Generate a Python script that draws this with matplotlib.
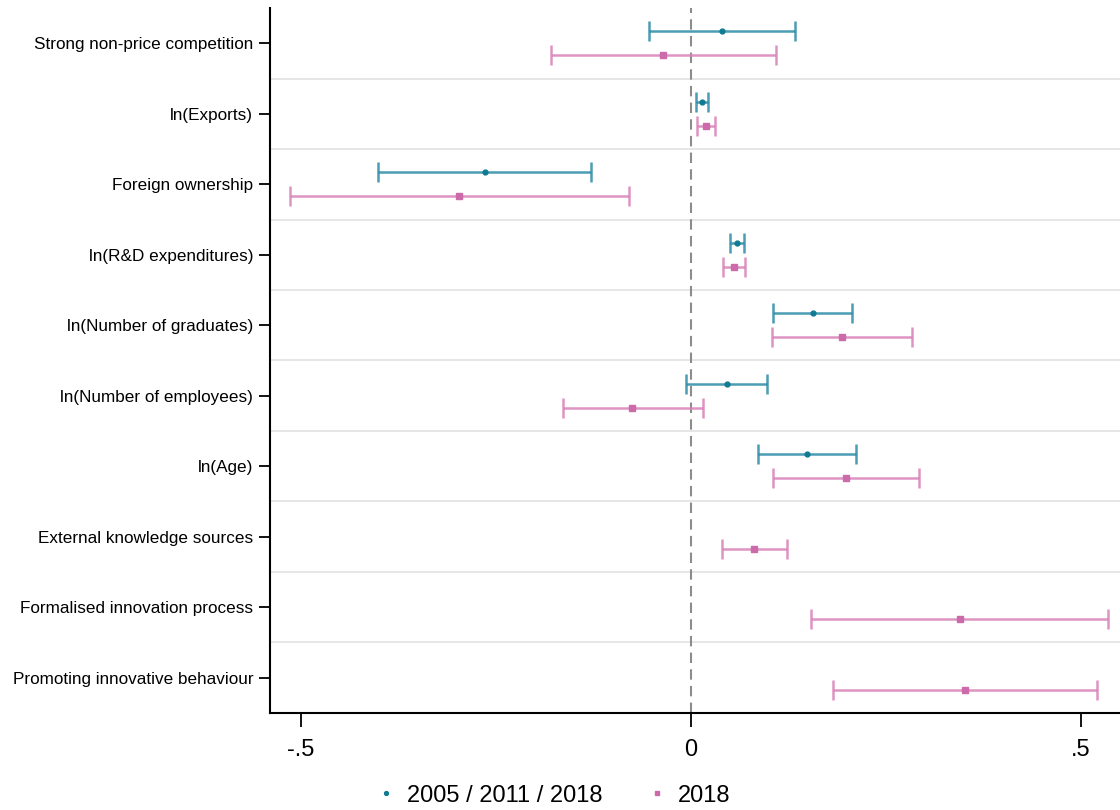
import matplotlib
matplotlib.use("Agg")
import matplotlib.pyplot as plt
import numpy as np

plt.rcParams['font.family'] = ['Liberation Sans', 'DejaVu Sans']

labels = ['Strong non-price competition', 'ln(Exports)', 'Foreign ownership',
          'ln(R&D expenditures)', 'ln(Number of graduates)', 'ln(Number of employees)',
          'ln(Age)', 'External knowledge sources', 'Formalised innovation process',
          'Promoting innovative behaviour']

# series 1: 2005 / 2011 / 2018 (only first seven variables)
s1_coef = [0.040, 0.014, -0.264, 0.059, 0.156, 0.046, 0.149]
s1_lo = [-0.054, 0.006, -0.401, 0.050, 0.105, -0.006, 0.086]
s1_hi = [0.133, 0.022, -0.128, 0.068, 0.206, 0.097, 0.212]

# series 2: 2018
s2_coef = [-0.036, 0.019, -0.297, 0.055, 0.194, -0.076, 0.199, 0.081, 0.345, 0.351]
s2_lo = [-0.179, 0.008, -0.514, 0.041, 0.104, -0.164, 0.105, 0.040, 0.154, 0.182]
s2_hi = [0.109, 0.031, -0.079, 0.069, 0.283, 0.015, 0.292, 0.123, 0.535, 0.521]

teal = '#2a8ca6'
teal_dark = '#117b93'
pink = '#d882b8'
pink_dark = '#cc6aaa'

fig = plt.figure(figsize=(11.2, 8.1), dpi=100)
ax = fig.add_axes([0.241, 0.120, 0.759, 0.870])

y1 = np.arange(len(s1_coef)) - 0.17
y2 = np.arange(len(s2_coef)) + 0.17

for sep in np.arange(0.5, len(labels) - 0.5, 1):
    ax.axhline(sep, color='#e2e2e2', linewidth=1.2, zorder=0)
ax.axvline(0, color='#8c8c8c', linestyle=(0, (5, 3)), linewidth=1.5, zorder=1)

c1 = np.array(s1_coef)
ax.errorbar(c1, y1, xerr=[c1 - np.array(s1_lo), np.array(s1_hi) - c1],
            fmt='none', ecolor=teal, elinewidth=1.8, capsize=7, capthick=1.8,
            alpha=0.85, zorder=2)
ax.plot(c1, y1, 'o', color=teal_dark, markersize=3.5, linestyle='none', zorder=3,
        label='2005 / 2011 / 2018')

c2 = np.array(s2_coef)
ax.errorbar(c2, y2, xerr=[c2 - np.array(s2_lo), np.array(s2_hi) - c2],
            fmt='none', ecolor=pink, elinewidth=1.8, capsize=7, capthick=1.8,
            alpha=0.85, zorder=2)
ax.plot(c2, y2, 's', color=pink_dark, markersize=4, linestyle='none', zorder=3,
        label='2018')

ax.set_ylim(9.5, -0.5)
ax.set_xlim(-0.540, 0.550)
ax.set_yticks(range(len(labels)))
ax.set_yticklabels(labels, fontsize=12.3)
ax.set_xticks([-0.5, 0, 0.5])
ax.set_xticklabels(['-.5', '0', '.5'], fontsize=17)
ax.tick_params(axis='y', length=8, width=1.3, pad=4)
ax.tick_params(axis='x', length=10, width=1.3, pad=9)
for side in ['top', 'right']:
    ax.spines[side].set_visible(False)
for side in ['left', 'bottom']:
    ax.spines[side].set_linewidth(1.5)

fig.legend(loc='lower center', bbox_to_anchor=(0.495, -0.022), ncol=2, frameon=False,
           fontsize=17, handlelength=0.6, handletextpad=0.6, columnspacing=2.0,
           markerscale=0.8)

fig.savefig('out.png', dpi=100)
